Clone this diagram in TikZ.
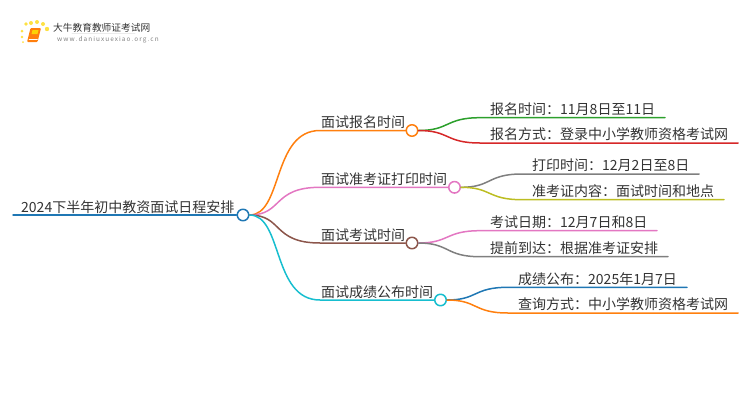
\documentclass[tikz,border=0pt]{standalone}
\usepackage{fontspec}
\setmainfont{Noto Sans CJK SC}
\definecolor{rootblue}{HTML}{1F77B4}
\definecolor{leaforange}{HTML}{FF7F0E}
\definecolor{leafgreen}{HTML}{2CA02C}
\definecolor{leafred}{HTML}{D62728}
\definecolor{leafpink}{HTML}{E377C2}
\definecolor{leafgray}{HTML}{7F7F7F}
\definecolor{leafolive}{HTML}{BCBD22}
\definecolor{leafbrown}{HTML}{8C564B}
\definecolor{leafcyan}{HTML}{17BECF}
\definecolor{inktext}{HTML}{333333}
\tikzset{
  labeltext/.style={anchor=base west,inner sep=0pt,text=inktext,font=\fontsize{14}{14}\selectfont},
  hubdot/.style={circle,draw=#1,line width=1.5pt,fill=white,minimum size=11.5pt,inner sep=0pt},
  branch/.style={draw=#1,line width=1.5pt,line cap=round}
}
\begin{document}
\begin{tikzpicture}[x=1pt,y=-1pt,line cap=round,line join=round]
  \useasboundingbox (0,0) rectangle (750,410);

  % Logo: sun dots, book and the two lines of its name.
  \foreach \x/\y/\r in {26/24/1.8,31/23/2,37/22/2,43/24/2,47/29/2.2,22/31/1.5,22/37/1.3,23/42/1}
    \fill[yellow!75!orange,opacity=.75] (\x,\y) circle (\r);
  \fill[leaforange,rounded corners=1pt] (30.5,28) -- (41,28) -- (37.5,42) -- (27,42) -- cycle;
  \draw[white,line width=.5pt] (29,39.5) -- (37.5,39.5);
  \fill[yellow!70!orange] (32.5,30) -- (38.5,30) -- (37.5,34) -- (31.5,34) -- cycle;
  \node[anchor=base west,inner sep=0pt,text=inktext,font=\fontsize{9.7}{10}\selectfont] (logotitle) at (53,31) {大牛教育教师证考试网};
  \draw[black!8,line width=.8pt] (72,33.5) -- (135,33.5);
  \node[anchor=base west,inner sep=0pt,text=black!50,font=\fontsize{6.4}{7}\selectfont] (logourl) at (57,41.5)
    {w\,w\,w\,.\,d\,a\,n\,i\,u\,x\,u\,e\,x\,i\,a\,o\,.\,o\,r\,g\,.\,c\,n};

  % Hubs on the lines.
  \node[hubdot=rootblue] (roothub) at (243,215) {};
  \node[hubdot=leaforange] (signhub) at (412,130.5) {};
  \node[hubdot=leafpink] (printhub) at (454.5,187.3) {};
  \node[hubdot=leafbrown] (examhub) at (412,243) {};
  \node[hubdot=leafcyan] (resulthub) at (440.5,300) {};

  % Free ends of the lines.
  \coordinate (rootend) at (13,215);
  \coordinate (signbend) at (320,130.5);
  \coordinate (printbend) at (320,187.3);
  \coordinate (exambend) at (320,243);
  \coordinate (resultbend) at (320,300);

  % Main stem and the four branches.
  \draw[branch=rootblue] (rootend) -- (roothub.west);
  \draw[branch=leaforange] (roothub.east) .. controls (283,215) and (272,130.5) .. (signbend) -- (signhub.west);
  \draw[branch=leafpink] (roothub.east) .. controls (283,215) and (272,187.3) .. (printbend) -- (printhub.west);
  \draw[branch=leafbrown] (roothub.east) .. controls (283,215) and (272,243) .. (exambend) -- (examhub.west);
  \draw[branch=leafcyan] (roothub.east) .. controls (283,215) and (272,300) .. (resultbend) -- (resulthub.west);

  % Leaves, upper and lower for each hub.
  \draw[branch=leafgreen] (signhub.east) .. controls (450,130.5) and (445,117.7) .. (480,117.7) -- (665,117.7);
  \draw[branch=leafred] (signhub.east) .. controls (450,130.5) and (445,143) .. (480,143) -- (738,143);
  \draw[branch=leafgray] (printhub.east) .. controls (492,187.3) and (487,174) .. (522,174) -- (699,174);
  \draw[branch=leafolive] (printhub.east) .. controls (492,187.3) and (487,199.7) .. (522,199.7) -- (724,199.7);
  \draw[branch=leafpink] (examhub.east) .. controls (450,243) and (445,230.7) .. (480,230.7) -- (657,230.7);
  \draw[branch=leafgray] (examhub.east) .. controls (450,243) and (445,256.7) .. (480,256.7) -- (668,256.7);
  \draw[branch=rootblue] (resulthub.east) .. controls (478,300) and (473,287.3) .. (508,287.3) -- (687,287.3);
  \draw[branch=leaforange] (resulthub.east) .. controls (478,300) and (473,313) .. (508,313) -- (738,313);

  % Labels.
  \node[labeltext] (roottext) at (21,212) {2024下半年初中教资面试日程安排};
  \node[labeltext] (signtext) at (321,127) {面试报名时间};
  \node[labeltext] (printtext) at (321,184) {面试准考证打印时间};
  \node[labeltext] (examtext) at (321,240) {面试考试时间};
  \node[labeltext] (resulttext) at (321,297) {面试成绩公布时间};
  \node[labeltext] (signtime) at (490,114) {报名时间：11月8日至11日};
  \node[labeltext] (signway) at (490,139.5) {报名方式：登录中小学教师资格考试网};
  \node[labeltext] (printtime) at (532,170.5) {打印时间：12月2日至8日};
  \node[labeltext] (printitem) at (532,196) {准考证内容：面试时间和地点};
  \node[labeltext] (examdate) at (490,227) {考试日期：12月7日和8日};
  \node[labeltext] (examgo) at (490,253) {提前到达：根据准考证安排};
  \node[labeltext] (resultdate) at (518,284) {成绩公布：2025年1月7日};
  \node[labeltext] (resultway) at (518,309.5) {查询方式：中小学教师资格考试网};
\end{tikzpicture}
\end{document}
